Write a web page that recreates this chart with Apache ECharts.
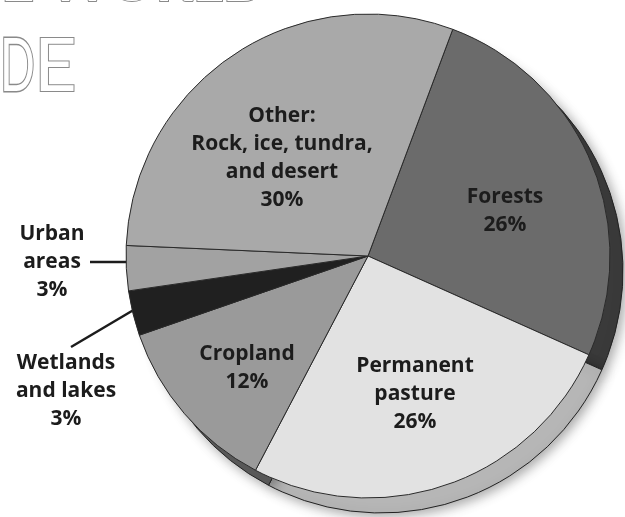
<!DOCTYPE html>
<html>
<head>
<meta charset="utf-8">
<script src="https://cdn.jsdelivr.net/npm/echarts@6/dist/echarts.min.js"></script>
<style>html,body{margin:0;padding:0;background:#fff}#c{width:625px;height:517px}</style>
</head>
<body>
<div id="c"></div>
<script>
// ---- data ----
const categories = ['Forests', 'Permanent\npasture', 'Cropland', 'Wetlands\nand lakes', 'Urban\nareas', 'Other:\nRock, ice, tundra,\nand desert'];
const values = [26, 26, 12, 3, 3, 30];
const faceColors = ['#6b6b6b', '#e2e2e2', '#9a9a9a', '#202020', '#a2a2a2', '#a9a9a9'];
const rimColors = ['#3a3a3a', '#b6b6b6', '#5a5a5a', '#111111', '#777777', '#888888'];
const outsideLabels = ['Wetlands\nand lakes', 'Urban\nareas'];

// ---- layout (label placement) ----
const labelPos = {
  'Forests': [505, 211],
  'Permanent\npasture': [415, 394],
  'Cropland': [247, 368],
  'Wetlands\nand lakes': [66, 391],
  'Urban\nareas': [52, 262],
  'Other:\nRock, ice, tundra,\nand desert': [282, 158]
};
const leaderLines = {
  'Wetlands\nand lakes': [[142, 305], [71, 347]],
  'Urban\nareas': [[147, 262], [90, 262]]
};

const chart = echarts.init(document.getElementById('c'), null, {renderer: 'canvas'});
const CX = 368, CY = 256, R = 242;

const frontData = categories.map((c, i) => {
  const outside = outsideLabels.includes(c);
  return {
    name: c, value: values[i],
    itemStyle: {color: faceColors[i]},
    label: outside ? {position: 'outside', overflow: 'none', width: 200} : {position: 'inside'},
    labelLine: {show: outside}
  };
});
const backData = categories.map((c, i) => ({name: c, value: values[i], itemStyle: {color: rimColors[i]}}));

chart.setOption({
  animation: false,
  backgroundColor: '#ffffff',
  graphic: [
    {type: 'text', left: 0, top: -48, style: {text: 'E WORLD', font: 'bold 58px Lato', fill: '#ffffff', stroke: '#8a8a8a', lineWidth: 2}},
    {type: 'text', x: 0, y: 30, scaleX: 0.62, style: {text: 'D', font: '74px Lato', fill: '#ffffff', stroke: '#8a8a8a', lineWidth: 3}},
    {type: 'text', x: 34, y: 30, style: {text: 'E', font: '74px Lato', fill: '#ffffff', stroke: '#8a8a8a', lineWidth: 2}}
  ],
  series: [
    {
      type: 'pie', z: 1, silent: true,
      center: [CX + 13, CY + 15], radius: R,
      startAngle: 69.5, clockwise: true,
      label: {show: false}, labelLine: {show: false},
      itemStyle: {borderColor: '#222', borderWidth: 1, shadowBlur: 12, shadowColor: 'rgba(0,0,0,0.35)', shadowOffsetX: 3, shadowOffsetY: 3},
      data: backData
    },
    {
      type: 'pie', z: 2,
      center: [CX, CY], radius: R,
      startAngle: 69.5, clockwise: true,
      itemStyle: {borderColor: '#2a2a2a', borderWidth: 1},
      label: {
        show: true,
        formatter: p => p.name + '\n' + p.value + '%',
        fontFamily: 'Open Sans', fontWeight: 'bold', fontSize: 21, lineHeight: 28,
        color: '#1c1c1c', align: 'center'
      },
      labelLine: {lineStyle: {color: '#1c1c1c', width: 2.5}, length: 20, length2: 10},
      labelLayout: function (params) {
        const name = categories[params.dataIndex];
        const p = labelPos[name];
        const out = {x: p[0], y: p[1], align: 'center', verticalAlign: 'middle'};
        if (leaderLines[name]) out.labelLinePoints = [leaderLines[name][0], leaderLines[name][0], leaderLines[name][1]];
        return out;
      },
      data: frontData
    }
  ]
});
</script>
</body>
</html>
